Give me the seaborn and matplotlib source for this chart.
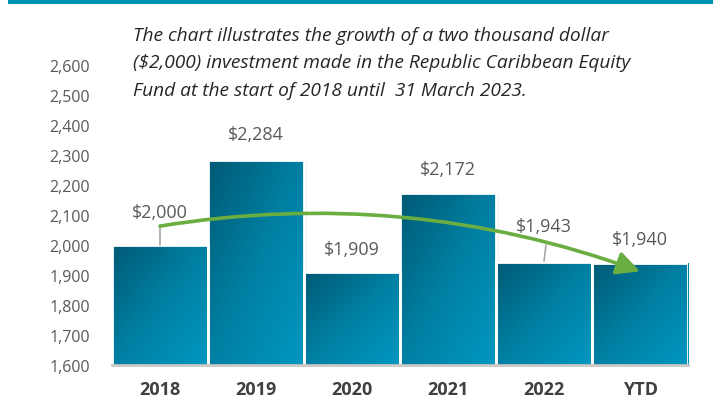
import numpy as np
import seaborn as sns
import matplotlib.pyplot as plt
from matplotlib.patches import FancyArrowPatch, Rectangle
from matplotlib.colors import LinearSegmentedColormap

# Chart data
periods = ["2018", "2019", "2020", "2021", "2022", "YTD"]
values = [2000, 2284, 1909, 2172, 1943, 1940]
value_labels = ["$2,000", "$2,284", "$1,909", "$2,172", "$1,943", "$1,940"]
y_ticks = [1600, 1700, 1800, 1900, 2000, 2100, 2200, 2300, 2400, 2500, 2600]

# Label offsets above each bar (layout only)
label_offsets = [110, 86, 78, 81, 120, 80]

caption = [
    "The chart illustrates the growth of a two thousand dollar",
    "($2,000) investment made in the Republic Caribbean Equity",
    "Fund at the start of 2018 until  31 March 2023.",
]


def main():
    sns.set_theme(style="white")
    plt.rcParams["font.family"] = ["Open Sans", "DejaVu Sans"]

    fig = plt.figure(figsize=(7.13, 4.02), dpi=100)
    ax = fig.add_axes([0.157, 0.0896, 0.808, 0.8209])

    sns.barplot(x=periods, y=values, width=1.0, color="#0088aa",
                edgecolor="white", linewidth=2, ax=ax, zorder=2)
    ax.set_ylim(1600, 2700)
    ax.set_xlim(-0.5, 5.5)

    # Gradient fill clipped to each bar: dark top-left -> light bottom-right
    cmap = LinearSegmentedColormap.from_list("teal", ["#005a75", "#0080a3", "#0097c0"])
    gx, gy = np.meshgrid(np.linspace(0, 1, 60), np.linspace(0, 1, 60))
    grad = (gx + gy) / 2
    for bar in ax.patches:
        x0 = bar.get_x()
        x1 = x0 + bar.get_width()
        top = bar.get_height()
        # light shadow
        sh = Rectangle((x0 + 0.03, 1600), bar.get_width(), top - 1600 - 6,
                       facecolor="#000000", alpha=0.06, zorder=1, linewidth=0)
        ax.add_patch(sh)
        im = ax.imshow(grad, cmap=cmap, extent=(x0, x1, 1600, top),
                       origin="upper", aspect="auto", zorder=2.5)
        im.set_clip_path(bar)
        bar.set_facecolor("none")
        bar.set_zorder(3)
    ax.set_ylim(1600, 2700)
    ax.set_xlim(-0.5, 5.5)

    # Value labels
    for i, (v, lab, off) in enumerate(zip(values, value_labels, label_offsets)):
        ax.text(i, v + off, lab, ha="center", va="center", fontsize=13,
                color="#595959", zorder=5)

    # Leader lines
    ax.plot([0, 0], [2000, 2063], color="#a6a6a6", lw=1.2, zorder=4)
    ax.plot([4.02, 4.0], [2000, 1946], color="#a6a6a6", lw=1.2, zorder=4)

    # Trend arrow
    arrow = FancyArrowPatch((0, 2063), (5.0, 1912),
                            connectionstyle="arc3,rad=-0.13",
                            arrowstyle="-|>,head_length=14,head_width=7",
                            color="#6aad41", lw=2.6, zorder=6,
                            shrinkA=0, shrinkB=0)
    ax.add_patch(arrow)

    # Axes styling
    ax.set_yticks(y_ticks)
    ax.set_yticklabels([f"{t:,}" for t in y_ticks])
    ax.tick_params(axis="y", length=0, pad=16, labelsize=11.5, labelcolor="#595959")
    ax.tick_params(axis="x", length=0, pad=11, labelsize=13, labelcolor="#404040")
    for lab in ax.get_xticklabels():
        lab.set_fontweight("bold")
    ax.set_xlabel("")
    ax.set_ylabel("")
    for s in ["top", "right", "left"]:
        ax.spines[s].set_visible(False)
    ax.spines["bottom"].set_color("#c8c8c8")
    ax.spines["bottom"].set_linewidth(2)
    ax.spines["bottom"].set_zorder(4)

    # Top banner
    fig.patches.append(Rectangle((0.011, 0.987), 0.989, 0.013, transform=fig.transFigure,
                                 facecolor="#0092b5", edgecolor="none"))

    # Caption
    for k, line in enumerate(caption):
        fig.text(0.186, 1 - (36 + 27.5 * k) / 402, line, fontsize=13.8,
                 style="italic", color="#262626", va="center", ha="left")

    fig.savefig("out.png", dpi=100)


if __name__ == "__main__":
    main()
